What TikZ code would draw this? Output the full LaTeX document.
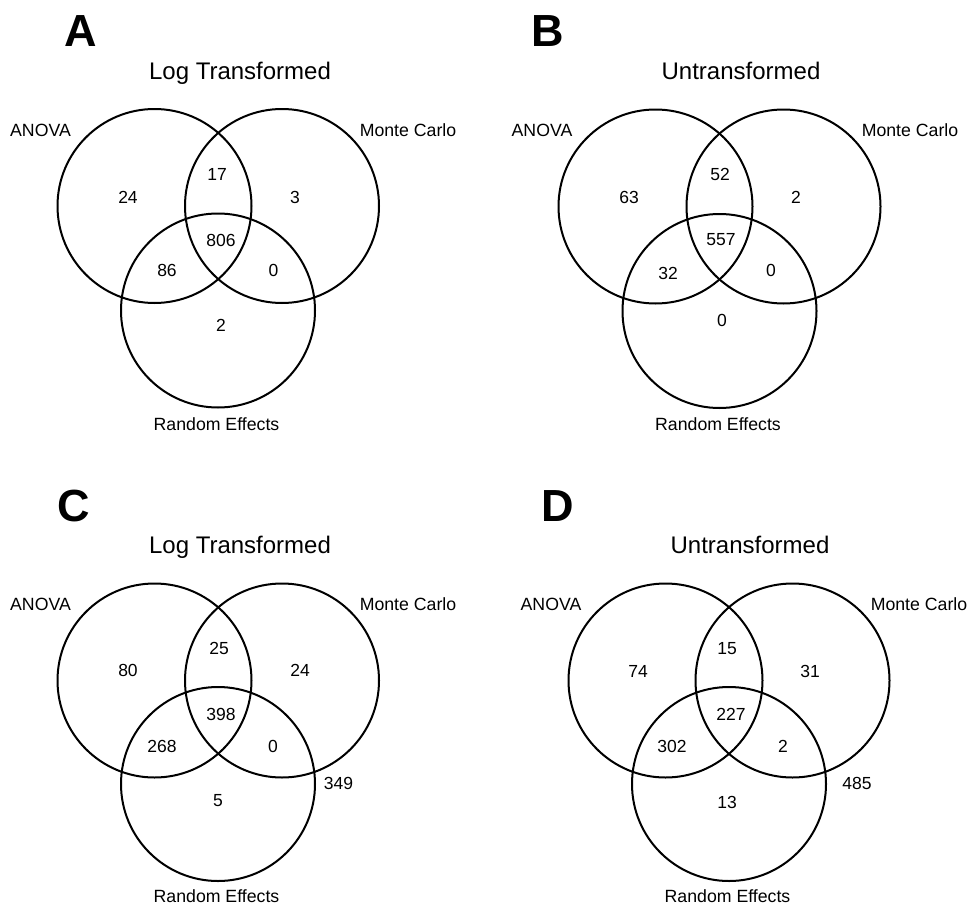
\documentclass[tikz,border=0pt]{standalone}
\usepackage{fontspec}
\setmainfont{Liberation Sans}
\begin{document}
\begin{tikzpicture}[x=1pt,y=-1pt,
  venn/.style={circle,draw,line width=2pt,minimum size=194pt,inner sep=0pt},
  lbl/.style={anchor=base,inner sep=0pt,font=\fontsize{17.7}{20}\selectfont},
  num/.style={anchor=base,inner sep=0pt,font=\fontsize{17.5}{20}\selectfont},
  ttl/.style={anchor=base,inner sep=0pt,font=\fontsize{24}{28}\selectfont},
  pnl/.style={anchor=base,inner sep=0pt,font=\fontsize{45}{50}\selectfont\bfseries}]
\useasboundingbox (0,0) rectangle (971,907);
% Panel A
\node[pnl] (pA) at (81,46.7) {A};
\node[ttl] (tA) at (240,79) {Log Transformed};
\node[venn] (aA) at (154.5,206) {};
\node[venn] (aM) at (282,206) {};
\node[venn] (aR) at (218,310.5) {};
\node[lbl] (lAa) at (40.5,136) {ANOVA};
\node[lbl] (lAm) at (408,136) {Monte Carlo};
\node[lbl] (lAr) at (216.5,430) {Random Effects};
\node[num] (nA1) at (128,203.3) {24};
\node[num] (nA2) at (217,180) {17};
\node[num] (nA3) at (295,203.3) {3};
\node[num] (nA4) at (221,246.7) {806};
\node[num] (nA5) at (167,276.7) {86};
\node[num] (nA6) at (273.5,276.7) {0};
\node[num] (nA7) at (221,331) {2};
% Panel B
\node[pnl] (pB) at (547.5,46.7) {B};
\node[ttl] (tB) at (741,79) {Untransformed};
\node[venn] (bA) at (655.5,206.5) {};
\node[venn] (bM) at (783.5,206.5) {};
\node[venn] (bR) at (719.5,311) {};
\node[lbl] (lBa) at (542,136) {ANOVA};
\node[lbl] (lBm) at (910,136) {Monte Carlo};
\node[lbl] (lBr) at (718,430) {Random Effects};
\node[num] (nB1) at (629,203.3) {63};
\node[num] (nB2) at (720,180) {52};
\node[num] (nB3) at (796,203.3) {2};
\node[num] (nB4) at (721,245.7) {557};
\node[num] (nB5) at (668,279) {32};
\node[num] (nB6) at (771,276.7) {0};
\node[num] (nB7) at (722,326.7) {0};
% Panel C
\node[pnl] (pC) at (74,521) {C};
\node[ttl] (tC) at (240,553.3) {Log Transformed};
\node[venn] (cA) at (154.5,680.5) {};
\node[venn] (cM) at (282,680.5) {};
\node[venn] (cR) at (218,784) {};
\node[lbl] (lCa) at (40.5,610.7) {ANOVA};
\node[lbl] (lCm) at (408,610.7) {Monte Carlo};
\node[lbl] (lCr) at (216.5,902.7) {Random Effects};
\node[num] (nC1) at (128,676.7) {80};
\node[num] (nC2) at (219,654) {25};
\node[num] (nC3) at (300,676.7) {24};
\node[num] (nC4) at (221,720) {398};
\node[num] (nC5) at (162,752.3) {268};
\node[num] (nC6) at (273,752.3) {0};
\node[num] (nC7) at (218,806) {5};
\node[num] (nC8) at (338.5,789.3) {349};
% Panel D
\node[pnl] (pD) at (557.5,521) {D};
\node[ttl] (tD) at (750,553.3) {Untransformed};
\node[venn] (dA) at (665.5,680.5) {};
\node[venn] (dM) at (792.5,680.5) {};
\node[venn] (dR) at (729,784) {};
\node[lbl] (lDa) at (551,610.7) {ANOVA};
\node[lbl] (lDm) at (919,610.7) {Monte Carlo};
\node[lbl] (lDr) at (727.5,902.7) {Random Effects};
\node[num] (nD1) at (638,677.3) {74};
\node[num] (nD2) at (727,654) {15};
\node[num] (nD3) at (810,677.3) {31};
\node[num] (nD4) at (731,720.7) {227};
\node[num] (nD5) at (672,752.3) {302};
\node[num] (nD6) at (783,752.3) {2};
\node[num] (nD7) at (727,808.3) {13};
\node[num] (nD8) at (857,789.3) {485};
\end{tikzpicture}
\end{document}
